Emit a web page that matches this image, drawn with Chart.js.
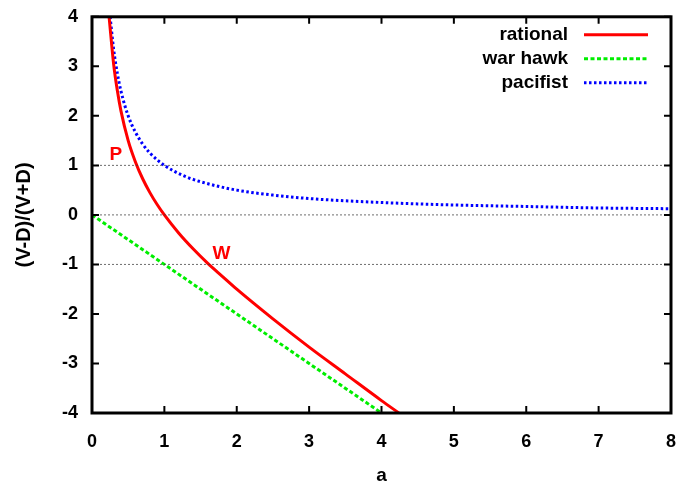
<!doctype html>
<html>
<head>
<title>rational / war hawk / pacifist</title>
<script src="https://cdn.jsdelivr.net/npm/chart.js"></script>
<style>
  html, body { margin: 0; padding: 0; background: #fff; }
  #box { width: 686px; height: 489px; }
</style>
</head>
<body>
<div id="box"><canvas id="grafico"></canvas></div>
<script>
// values
var rationalA = [0.236, 0.3, 0.35, 0.4, 0.5, 0.6, 0.7, 0.8, 0.9, 1.0, 1.2, 1.4, 1.6, 1.8, 2.0, 2.5, 3.0, 3.5, 4.0, 4.24];
var rationalV = [4.0, 3.03, 2.51, 2.1, 1.5, 1.07, 0.73, 0.45, 0.21, 0.0, -0.37, -0.69, -0.98, -1.24, -1.5, -2.1, -2.67, -3.21, -3.75, -4.0];

var hawkA = [0, 4];
var hawkV = [0, -4];

var pacifistA = [0.25, 0.3, 0.35, 0.4, 0.5, 0.6, 0.7, 0.8, 1.0, 1.25, 1.5, 2.0, 2.5, 3.0, 4.0, 5.0, 6.0, 7.0, 8.0];
var pacifistV = [4.0, 3.33, 2.86, 2.5, 2.0, 1.67, 1.43, 1.25, 1.0, 0.8, 0.67, 0.5, 0.4, 0.33, 0.25, 0.2, 0.17, 0.14, 0.125];

var refLevels = [1, 0, -1];

var xTicks = [0, 1, 2, 3, 4, 5, 6, 7, 8];
var yTicks = [-4, -3, -2, -1, 0, 1, 2, 3, 4];

var marks = ['P', 'W'];
var marksA = [0.33, 1.79];
var marksV = [1.21, -0.78];

function pares(xs, ys) {
    return xs.map(function (x, i) { return { x: x, y: ys[i] }; });
}

var familia = '"Liberation Sans", Arial, sans-serif';
var fonte = 'bold 19px ' + familia;

var datasets = refLevels.map(function (v) {
    return {
        label: '',
        data: [{ x: 0, y: v }, { x: 8, y: v }],
        borderColor: 'rgba(60,60,60,0.75)',
        borderWidth: 1,
        borderDash: [2, 2],
        pointRadius: 0,
        legenda: false
    };
});

datasets.push({
    label: 'rational',
    data: pares(rationalA, rationalV),
    borderColor: '#ff0000',
    borderWidth: 3,
    cubicInterpolationMode: 'monotone',
    pointRadius: 0,
    legenda: true
});
datasets.push({
    label: 'war hawk',
    data: pares(hawkA, hawkV),
    borderColor: '#00ee00',
    borderWidth: 3,
    borderDash: [4, 2.5],
    pointRadius: 0,
    legenda: true
});
datasets.push({
    label: 'pacifist',
    data: pares(pacifistA, pacifistV),
    borderColor: '#0000ff',
    borderWidth: 3,
    borderDash: [2.5, 2.5],
    cubicInterpolationMode: 'monotone',
    pointRadius: 0,
    legenda: true
});

// moldura, ticks para dentro, legenda e rótulos P / W
var estiloGnuplot = {
    id: 'estiloGnuplot',
    afterDatasetsDraw: function (chart) {
        var ctx = chart.ctx;
        var a = chart.chartArea;
        var sx = chart.scales.x, sy = chart.scales.y;
        ctx.save();

        // rótulos P e W
        ctx.font = fonte;
        ctx.fillStyle = '#ff0000';
        ctx.textAlign = 'center';
        ctx.textBaseline = 'middle';
        marks.forEach(function (m, i) {
            ctx.fillText(m, sx.getPixelForValue(marksA[i]), sy.getPixelForValue(marksV[i]));
        });

        // ticks
        ctx.strokeStyle = '#000';
        ctx.lineWidth = 2;
        ctx.beginPath();
        xTicks.forEach(function (t) {
            var px = sx.getPixelForValue(t);
            ctx.moveTo(px, a.bottom); ctx.lineTo(px, a.bottom - 7);
            ctx.moveTo(px, a.top); ctx.lineTo(px, a.top + 7);
        });
        yTicks.forEach(function (t) {
            var py = sy.getPixelForValue(t);
            ctx.moveTo(a.left, py); ctx.lineTo(a.left + 7, py);
            ctx.moveTo(a.right, py); ctx.lineTo(a.right - 7, py);
        });
        ctx.stroke();

        // moldura
        ctx.lineWidth = 3;
        ctx.strokeRect(a.left, a.top, a.right - a.left, a.bottom - a.top);

        // legenda: texto à esquerda, amostra da linha à direita
        var linhas = chart.data.datasets.filter(function (d) { return d.legenda; });
        ctx.textAlign = 'right';
        ctx.fillStyle = '#000';
        linhas.forEach(function (d, i) {
            var y = a.top + 18 + i * 24;
            ctx.fillText(d.label, 568, y);
            ctx.beginPath();
            ctx.strokeStyle = d.borderColor;
            ctx.lineWidth = d.borderWidth;
            ctx.setLineDash(d.borderDash || []);
            ctx.moveTo(584, y);
            ctx.lineTo(648, y);
            ctx.stroke();
        });
        ctx.restore();
    }
};

var grafico = new Chart(document.getElementById('grafico').getContext('2d'), {
    type: 'scatter',
    data: { datasets: datasets },
    options: {
        responsive: true,
        maintainAspectRatio: false,
        animation: false,
        showLine: true,
        layout: { padding: { left: 0, top: 0, right: 0, bottom: 0 } },
        plugins: {
            legend: { display: false },
            tooltip: { enabled: false }
        },
        scales: {
            x: {
                type: 'linear',
                min: 0,
                max: 8,
                afterBuildTicks: function (s) { s.ticks = xTicks.map(function (v) { return { value: v }; }); },
                afterFit: function (s) { s.height = 76; },
                grid: { display: false },
                border: { display: false },
                ticks: { color: '#000', padding: 10, font: { family: familia, size: 18, weight: 'bold' } },
                title: {
                    display: true,
                    text: 'a',
                    color: '#000',
                    padding: { top: 10, bottom: 2 },
                    font: { family: familia, size: 19, weight: 'bold' }
                }
            },
            y: {
                type: 'linear',
                min: -4,
                max: 4,
                afterBuildTicks: function (s) { s.ticks = yTicks.map(function (v) { return { value: v }; }); },
                afterFit: function (s) { s.width = 92; },
                grid: { display: false },
                border: { display: false },
                ticks: { color: '#000', padding: 6, font: { family: familia, size: 18, weight: 'bold' } },
                title: {
                    display: true,
                    text: '(V-D)/(V+D)',
                    color: '#000',
                    padding: { top: 12, bottom: 0 },
                    font: { family: familia, size: 20, weight: 'bold' }
                }
            }
        }
    },
    plugins: [estiloGnuplot]
});
</script>
</body>
</html>
